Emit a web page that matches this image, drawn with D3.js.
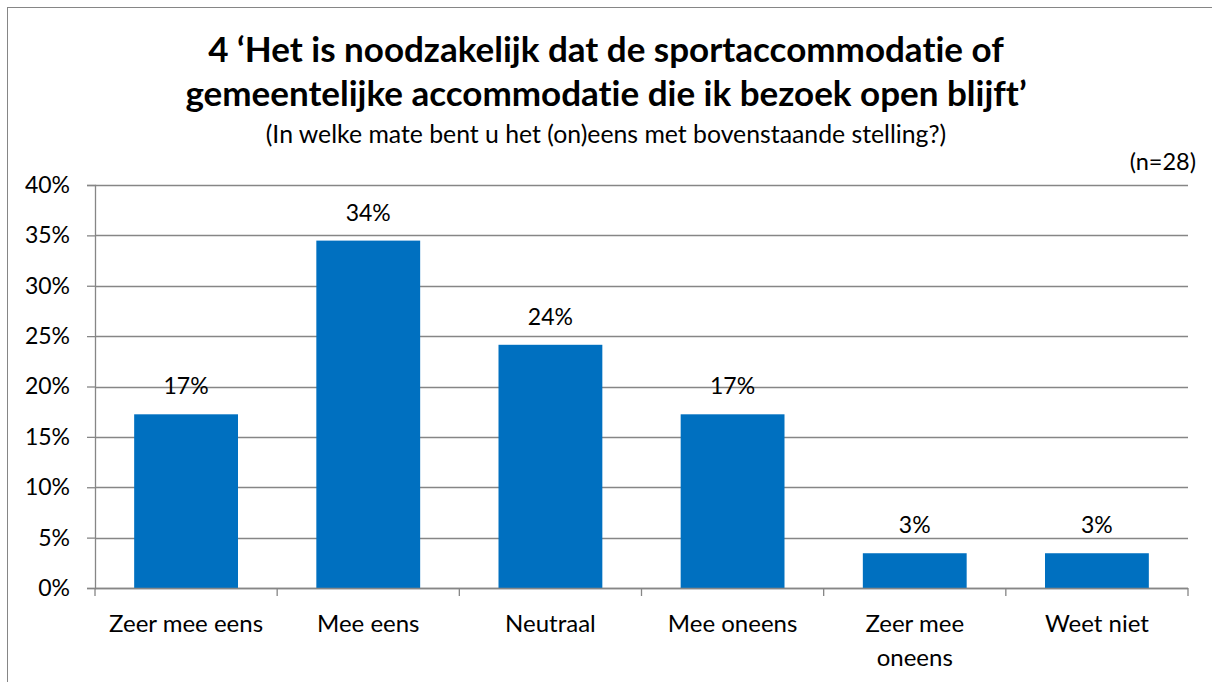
<!DOCTYPE html>
<html>
<head>
<meta charset="utf-8">
<script src="https://cdn.jsdelivr.net/npm/d3@7"></script>
<style>
  body { margin: 0; background: #fff; }
  svg text { font-family: Lato, "Open Sans", sans-serif; fill: #000; font-variant-ligatures: none; }
</style>
</head>
<body>
<div id="chart"></div>
<script>
var categories = ["Zeer mee eens", "Mee eens", "Neutraal", "Mee oneens", "Zeer mee oneens", "Weet niet"];
var values = [17.24, 34.48, 24.14, 17.24, 3.45, 3.45];
var valueLabels = ["17%", "34%", "24%", "17%", "3%", "3%"];
var yTicks = [0, 5, 10, 15, 20, 25, 30, 35, 40];
var titleLines = ["4 \u2018Het is noodzakelijk dat de sportaccommodatie of",
                  "gemeentelijke accommodatie die ik bezoek open blijft\u2019"];
var subtitle = "(In welke mate bent u het (on)eens met bovenstaande stelling?)";
var note = "(n=28)";

(function() {
  var W = 1212, H = 682;
  var margin = {top: 185, right: 24, bottom: 94, left: 95},
      width = W - margin.left - margin.right,
      height = H - margin.top - margin.bottom;

  var root = d3.select("#chart").append("svg")
    .attr("width", W)
    .attr("height", H);

  // outer frame
  root.append("rect")
    .attr("x", 7.5).attr("y", 7.5)
    .attr("width", W + 20).attr("height", H + 20)
    .attr("fill", "none")
    .attr("stroke", "#868686");

  root.selectAll(".title")
    .data(titleLines)
    .enter().append("text")
    .attr("class", "title")
    .attr("x", 606)
    .attr("y", function(d, i) { return 62 + i * 44; })
    .attr("text-anchor", "middle")
    .style("font-weight", "bold")
    .style("font-size", "35px")
    .text(function(d) { return d; });

  root.append("text")
    .attr("x", 606).attr("y", 143)
    .attr("text-anchor", "middle")
    .style("font-size", "24.8px")
    .text(subtitle);

  root.append("text")
    .attr("x", 1196).attr("y", 170)
    .attr("text-anchor", "end")
    .style("font-size", "23.5px")
    .text(note);

  var svg = root.append("g")
    .attr("transform", "translate(" + margin.left + "," + margin.top + ")");

  var x = d3.scaleBand()
    .domain(categories)
    .range([0, width])
    .paddingInner(0.43)
    .paddingOuter(0.215);

  var y = d3.scaleLinear()
    .domain([0, 40])
    .range([height, 0]);

  // gridlines
  svg.append("g")
    .selectAll("line")
    .data(yTicks)
    .enter().append("line")
    .attr("x1", 0).attr("x2", width)
    .attr("y1", function(d) { return Math.round(y(d)) + 0.5; })
    .attr("y2", function(d) { return Math.round(y(d)) + 0.5; })
    .attr("stroke", "#868686")
    .attr("stroke-width", 1.3);

  // y axis
  var yAxis = svg.append("g")
    .call(d3.axisLeft(y).tickValues(yTicks).tickSize(8).tickPadding(17)
      .tickFormat(function(d) { return d + "%"; }));
  yAxis.select(".domain").attr("stroke", "#868686").attr("stroke-width", 1.3);
  yAxis.selectAll(".tick line").attr("stroke", "#868686").attr("stroke-width", 1.3);
  yAxis.selectAll("text").style("font-size", "23px").attr("fill", "#000");

  // bars
  svg.selectAll(".bar")
    .data(values)
    .enter().append("rect")
    .attr("class", "bar")
    .attr("x", function(d, i) { return x(categories[i]); })
    .attr("y", function(d) { return y(d); })
    .attr("width", x.bandwidth())
    .attr("height", function(d) { return height - y(d); })
    .attr("fill", "#0070C0");

  // value labels
  svg.selectAll(".lbl")
    .data(values)
    .enter().append("text")
    .attr("class", "lbl")
    .attr("x", function(d, i) { return x(categories[i]) + x.bandwidth() / 2; })
    .attr("y", function(d) { return y(d) - 20; })
    .attr("text-anchor", "middle")
    .style("font-size", "23px")
    .text(function(d, i) { return valueLabels[i]; });

  // x axis: ticks at category boundaries
  var step = x.step();
  svg.append("line")
    .attr("x1", 0).attr("x2", width)
    .attr("y1", height + 0.5).attr("y2", height + 0.5)
    .attr("stroke", "#868686").attr("stroke-width", 1.3);
  svg.append("g")
    .selectAll("line")
    .data(d3.range(categories.length + 1))
    .enter().append("line")
    .attr("x1", function(i) { return i * step; })
    .attr("x2", function(i) { return i * step; })
    .attr("y1", height).attr("y2", height + 8)
    .attr("stroke", "#868686").attr("stroke-width", 1.3);

  var xl = svg.append("g").selectAll("text")
    .data(categories)
    .enter().append("text")
    .attr("x", function(d) { return x(d) + x.bandwidth() / 2; })
    .attr("y", height + 44)
    .attr("text-anchor", "middle")
    .style("font-size", "24px");
  xl.each(function(d) {
    var lines = d === "Zeer mee oneens" ? ["Zeer mee", "oneens"] : [d];
    var t = d3.select(this);
    lines.forEach(function(l, i) {
      t.append("tspan")
        .attr("x", t.attr("x"))
        .attr("dy", i === 0 ? 0 : 34)
        .text(l);
    });
  });
})();
</script>
</body>
</html>
